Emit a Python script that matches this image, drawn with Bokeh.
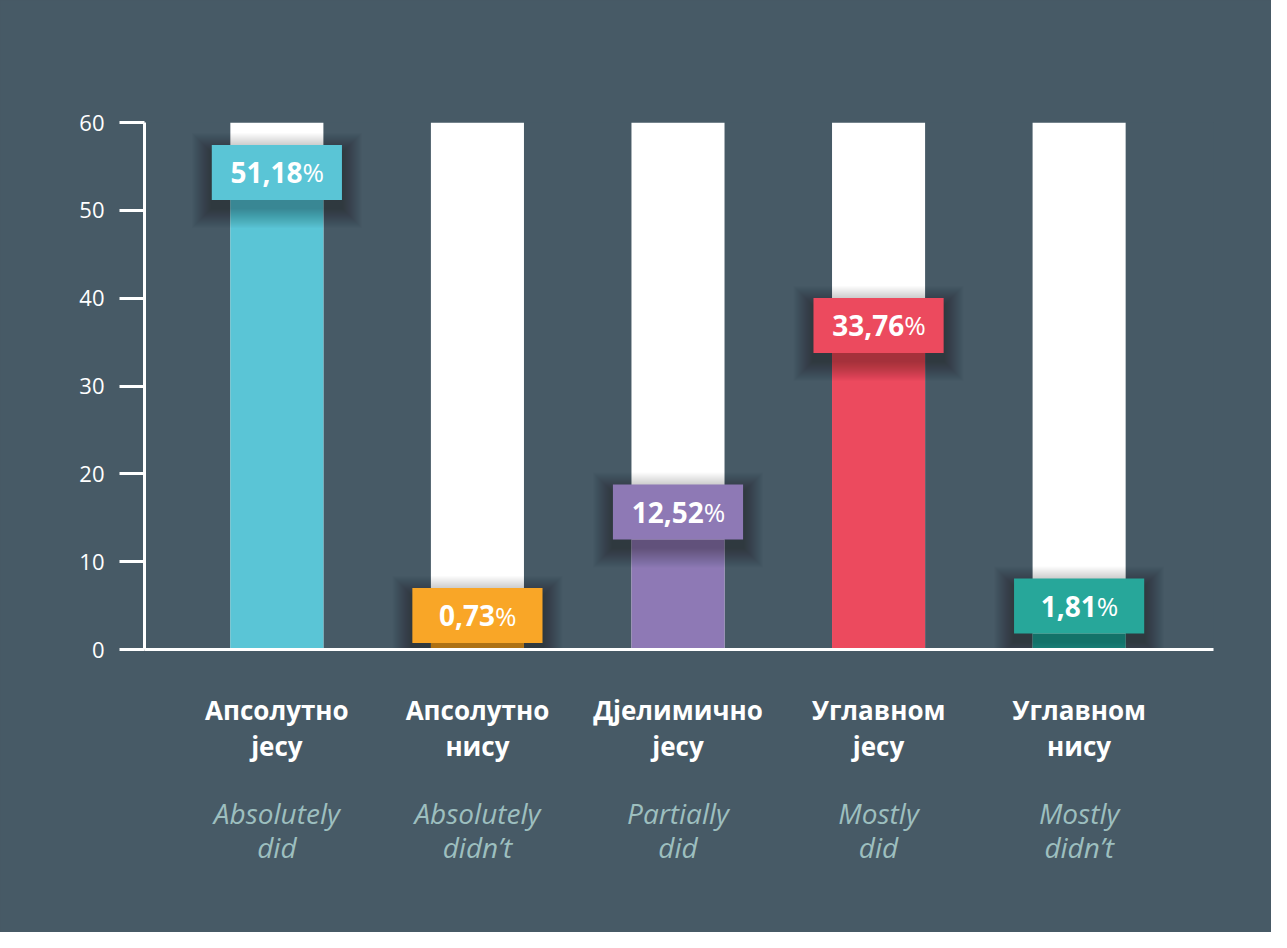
from bokeh.plotting import figure
from bokeh.models import FixedTicker, LinearAxis, ColumnDataSource, Range1d
from bokeh.core.properties import value
from bokeh.embed import file_html
from bokeh.resources import INLINE

# ---- data ----
categories_sr = ["Апсолутно\nјесу", "Апсолутно\nнису", "Дјелимично\nјесу",
                 "Углавном\nјесу", "Углавном\nнису"]
categories_en = ["Absolutely\ndid", "Absolutely\ndidn\u2019t", "Partially\ndid",
                 "Mostly\ndid", "Mostly\ndidn\u2019t"]
values = [51.18, 0.73, 12.52, 33.76, 1.81]
colors = ["#5AC5D6", "#F9A627", "#8E79B5", "#EC4A5E", "#27A79A"]
y_ticks = [0, 10, 20, 30, 40, 50, 60]
y_max = 60

# ---- style / layout ----
BG = "#475A66"
W, H = 1271, 932
ML, MR, MT, MB = 144, 58, 122, 283
X0, X1 = -0.66, 4.67
FW, FH = W - ML - MR, H - MT - MB
PX_X = FW / (X1 - X0)
PX_Y = FH / (y_max - 0)

bar_w = 0.464
box_w = 0.649
box_h = 55 / PX_Y

xs = list(range(len(values)))
num_labels = [f"{v:.2f}".replace(".", ",") for v in values]

NUM_FS, PCT_FS = 28, 26
def num_width(s):
    w = 0
    for ch in s:
        w += 0.29 * NUM_FS if ch == "," else 0.572 * NUM_FS
    return w
PCT_W = 0.80 * PCT_FS
offsets = [(num_width(s) + PCT_W) / 2 - PCT_W for s in num_labels]

src = ColumnDataSource(dict(
    x=xs, v=values, color=colors,
    left=[x - box_w / 2 for x in xs], right=[x + box_w / 2 for x in xs],
    btop=[v + box_h for v in values],
    ty=[v + box_h / 2 for v in values],
    num=num_labels, pct=["%"] * len(values), off=offsets,
))

p = figure(width=W, height=H, x_range=Range1d(X0, X1), y_range=Range1d(0, y_max),
           output_backend="svg", toolbar_location=None,
           min_border_left=ML, min_border_right=MR, min_border_top=MT,
           min_border_bottom=MB)
p.background_fill_color = BG
p.border_fill_color = BG
p.outline_line_color = None
p.grid.visible = False
p.styles = {"background-color": BG}

# white tracks
p.vbar(x="x", bottom=0, top=y_max, width=bar_w, source=src,
       fill_color="white", line_color=None)
# coloured bars
p.vbar(x="x", bottom=0, top="v", width=bar_w, source=src,
       fill_color="color", line_color=None)

# soft shadow behind label boxes
NL = 20
for k in range(1, NL + 1):
    ex = 1.0 * k / PX_X
    ey = 1.0 * k / PX_Y
    dy = -8 / PX_Y
    p.quad(left=[l - ex for l in src.data["left"]],
           right=[r + ex for r in src.data["right"]],
           bottom=[b - ey + dy for b in values],
           top=[t + ey + dy for t in src.data["btop"]],
           fill_color="black", fill_alpha=0.014, line_color=None)

# label boxes
p.quad(left="left", right="right", bottom="v", top="btop", source=src,
       fill_color="color", line_color=None)

p.text(x="x", y="ty", text="num", x_offset="off", source=src,
       text_align="right", text_baseline="middle",
       text_font=value("Open Sans"), text_font_style="bold",
       text_font_size=f"{NUM_FS}px", text_color="white")
p.text(x="x", y="ty", text="pct", x_offset="off", source=src,
       text_align="left", text_baseline="middle",
       text_font=value("Open Sans"), text_font_style="normal",
       text_font_size=f"{PCT_FS}px", text_color="white")

# y axis
ya = p.yaxis[0]
ya.ticker = FixedTicker(ticks=y_ticks)
ya.axis_line_color = "white"
ya.axis_line_width = 3
ya.major_tick_line_color = "white"
ya.major_tick_line_width = 3
ya.major_tick_out = 25
ya.major_tick_in = 0
ya.minor_tick_line_color = None
ya.major_label_text_color = "white"
ya.major_label_text_font = "Open Sans"
ya.major_label_text_font_size = "22px"
ya.major_label_standoff = 15

# x axis (Serbian labels)
xa = p.xaxis[0]
xa.ticker = FixedTicker(ticks=xs)
xa.major_label_overrides = {i: t for i, t in zip(xs, categories_sr)}
xa.axis_line_color = "white"
xa.axis_line_width = 3
xa.major_tick_line_color = None
xa.major_tick_out = 0
xa.major_tick_in = 0
xa.minor_tick_line_color = None
xa.major_label_text_color = "white"
xa.major_label_text_font = "Open Sans"
xa.major_label_text_font_style = "bold"
xa.major_label_text_font_size = "26px"
xa.major_label_text_line_height = 1.0
xa.major_label_standoff = 42

# second x axis (English labels)
xa2 = LinearAxis(ticker=FixedTicker(ticks=xs),
                 major_label_overrides={i: t for i, t in zip(xs, categories_en)})
xa2.axis_line_color = None
xa2.major_tick_line_color = None
xa2.major_tick_out = 0
xa2.major_tick_in = 0
xa2.minor_tick_line_color = None
xa2.major_label_text_color = "#9DBFBF"
xa2.major_label_text_font = "Open Sans"
xa2.major_label_text_font_style = "italic"
xa2.major_label_text_font_size = "28px"
xa2.major_label_text_line_height = 0.92
xa2.major_label_standoff = 27
p.add_layout(xa2, "below")

open("out.html", "w").write(file_html(p, INLINE))
